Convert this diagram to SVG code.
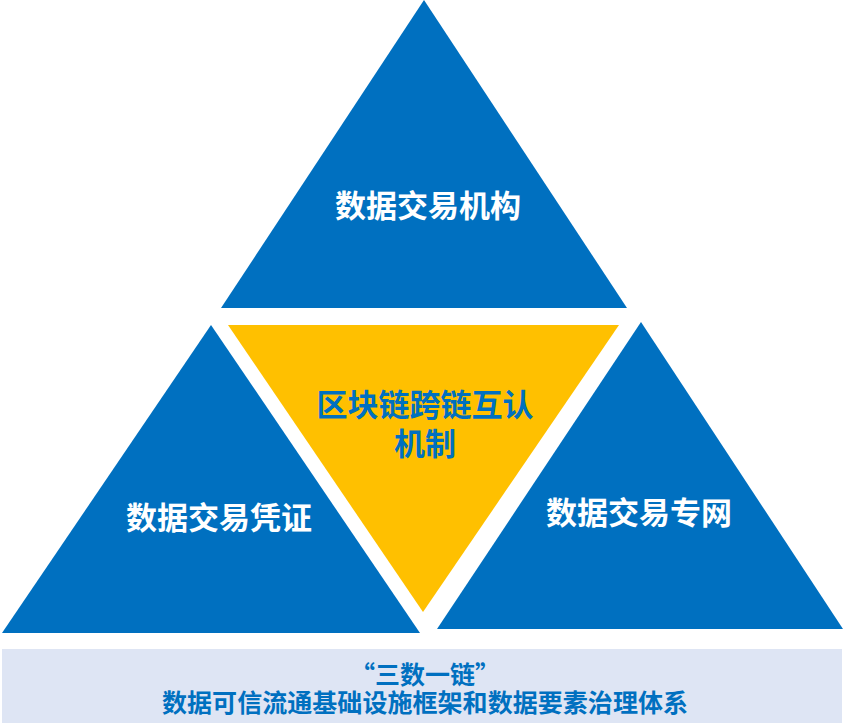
<svg xmlns="http://www.w3.org/2000/svg" width="845" height="726" viewBox="0 0 845 726">
<style>
.blue{fill:#0070C0;}
.yellow{fill:#FFC000;}
.t{font-family:"Noto Sans CJK SC","Noto Sans",sans-serif;font-weight:bold;text-anchor:middle;dominant-baseline:central;}
.w{fill:#FFFFFF;font-size:31px;}
.b{fill:#0070C0;}
</style>
<rect width="845" height="726" fill="#FFFFFF"/>
<g id="node-top">
<polygon class="blue" points="424,0 221,308 627,308"/>
<text class="t w" x="428" y="203">数据交易机构</text>
</g>
<g id="node-left">
<polygon class="blue" points="211,325 2,633 420,633"/>
<text class="t w" x="219" y="515">数据交易凭证</text>
</g>
<g id="node-right">
<polygon class="blue" points="641,322 437,629 843,629"/>
<text class="t w" x="639" y="510">数据交易专网</text>
</g>
<g id="node-center">
<polygon class="yellow" points="228,325 619,325 423,612"/>
<text class="t b" x="425" y="402" font-size="31">区块链跨链互认</text>
<text class="t b" x="425" y="441" font-size="31">机制</text>
</g>
<g id="node-bottom">
<rect x="2" y="649" width="840" height="74" fill="#DEE5F4"/>
<text class="t b" x="425" y="673" font-size="25">“三数一链”</text>
<text class="t b" x="425" y="701" font-size="25" textLength="526" lengthAdjust="spacing">数据可信流通基础设施框架和数据要素治理体系</text>
</g>
<g id="connectors"></g>
</svg>
